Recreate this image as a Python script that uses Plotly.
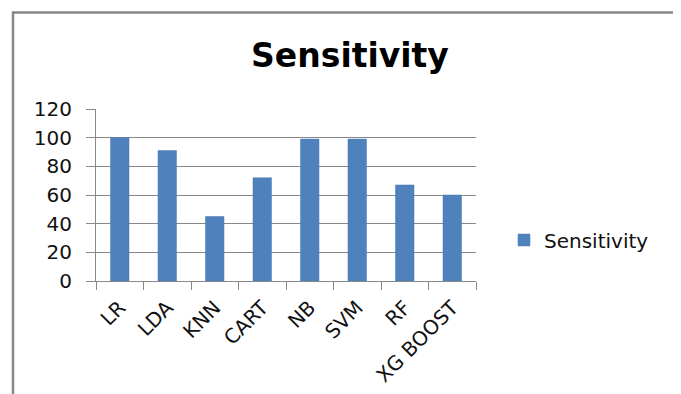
import plotly.graph_objects as go

categories = ["LR", "LDA", "KNN", "CART", "NB", "SVM", "RF", "XG BOOST"]
sensitivity = [100, 91, 45, 72, 99, 99, 67, 60]
y_ticks = [0, 20, 40, 60, 80, 100, 120]

# page body adds an 8px offset; layout coordinates are shifted accordingly
W, H = 681, 394
L, R, T, B = 88, 468, 101, 273

fig = go.Figure()
fig.add_trace(go.Bar(
    x=categories, y=sensitivity, name="Sensitivity",
    marker=dict(color="#4F81BD", line=dict(color="#4A7AB5", width=0.5)),
    width=0.39,
))

def px_to_paper_x(px):
    return (px - L) / (R - L)

def px_to_paper_y(py):
    return (B - py) / (B - T)

FONT = "DejaVu Sans"

fig.update_layout(
    width=W, height=H,
    margin=dict(l=L, r=W - R, t=T, b=H - B, pad=0),
    paper_bgcolor="white", plot_bgcolor="white",
    title=dict(text="<b>Sensitivity</b>", x=342 / W, xanchor="center",
               y=1 - 47 / H, yanchor="middle",
               font=dict(family=FONT, size=33, color="black")),
    font=dict(family=FONT, color="#111"),
    showlegend=True,
    legend=dict(x=px_to_paper_x(496), xanchor="left", y=px_to_paper_y(232), yanchor="middle",
                font=dict(size=20, color="#111"), bgcolor="rgba(0,0,0,0)"),
    xaxis=dict(
        type="category", tickson="boundaries", ticks="outside", ticklen=8,
        tickcolor="#888", showline=True, linecolor="#888", linewidth=1,
        tickangle=-45, tickfont=dict(size=20, color="#111"),
        ticklabelstandoff=6,
        showgrid=False, range=[-0.5, 7.5],
    ),
    yaxis=dict(
        range=[0, 120], tickvals=y_ticks, ticks="outside", ticklen=9,
        tickcolor="#888", showline=True, linecolor="#888", linewidth=1,
        showgrid=True, gridcolor="#888", gridwidth=1, zeroline=False,
        tickfont=dict(size=20, color="#111"), ticklabelstandoff=10,
    ),
    shapes=[dict(type="rect", xref="paper", yref="paper",
                 x0=px_to_paper_x(5), x1=px_to_paper_x(669),
                 y0=px_to_paper_y(420), y1=px_to_paper_y(4.5),
                 line=dict(color="#888", width=2.5), fillcolor="rgba(0,0,0,0)",
                 layer="below")],
)

fig.write_html("out.html")
